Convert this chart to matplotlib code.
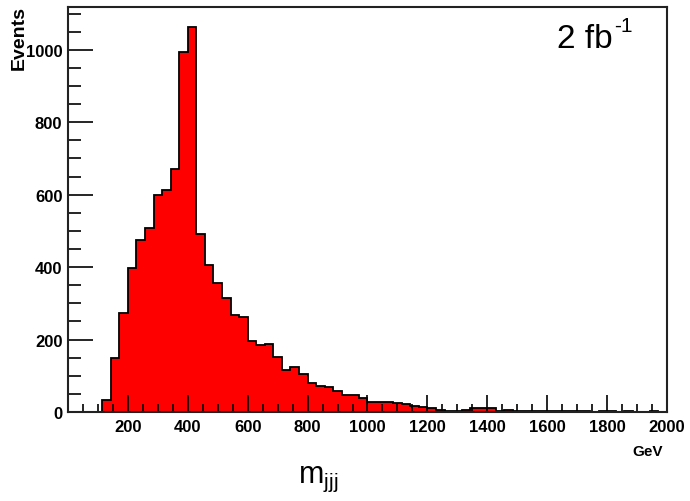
import numpy as np
import matplotlib.pyplot as plt
from matplotlib.ticker import MultipleLocator

plt.rcParams['font.family'] = ['Liberation Sans', 'DejaVu Sans']
plt.rcParams['axes.unicode_minus'] = False

# 70 bins from 0 to 2000 GeV
edges = np.linspace(0, 2000, 71)
counts = [0, 0, 0, 0, 33, 148, 273, 398, 475, 508,
          600, 614, 672, 994, 1064, 490, 405, 355, 315, 267,
          261, 197, 185, 189, 153, 116, 125, 105, 80, 71,
          68, 57, 47, 47, 38, 28, 28, 27, 25, 22,
          17, 14, 10, 6, 3, 3, 5, 11, 11, 10,
          3, 6, 4, 3, 3, 2, 3, 2, 2, 3,
          2, 1, 2, 2, 1, 2, 1, 1, 2, 1]
xticks = [200, 400, 600, 800, 1000, 1200, 1400, 1600, 1800, 2000]

fig = plt.figure(figsize=(6.9, 5.02), dpi=100)
ax = fig.add_axes([68 / 690, 1 - 413 / 502, 599 / 690, 405 / 502])

ax.stairs(counts, edges, fill=True, color='red', linewidth=0)
ax.stairs(counts, edges, color='black', linewidth=1.3)

ax.set_xlim(0, 2000)
ax.set_ylim(0, 1118)
ax.set_xticks(xticks)
ax.xaxis.set_minor_locator(MultipleLocator(50))
ax.yaxis.set_major_locator(MultipleLocator(200))
ax.yaxis.set_minor_locator(MultipleLocator(50))
ax.tick_params(which='both', direction='in', top=False, right=False, width=1.2, color='black')
ax.tick_params(axis='y', which='major', length=18, pad=4)
ax.tick_params(axis='y', which='minor', length=9)
ax.tick_params(axis='x', which='major', length=12, pad=5)
ax.tick_params(axis='x', which='minor', length=6)
for lab in ax.get_xticklabels() + ax.get_yticklabels():
    lab.set_fontweight('bold')
    lab.set_fontsize(12)
for sp in ax.spines.values():
    sp.set_linewidth(1.5)
    sp.set_color('#222222')

fig.text(648 / 690, 1 - 452 / 502, 'GeV', fontsize=11, fontweight='bold', ha='center', va='center')
fig.text(19 / 690, 1 - 38 / 502, 'Events', fontsize=14, fontweight='bold', rotation=90,
         ha='center', va='center')
t = fig.text(557 / 690, 1 - 48 / 502, '2 fb', fontsize=24, ha='left', va='baseline')
ax.annotate('-1', xy=(1.02, 0.62), xycoords=t, fontsize=15, ha='left', va='bottom')
fig.text(298 / 690, 1 - 483 / 502, 'm$_{\\mathregular{jjj}}$', fontsize=22, ha='left', va='baseline')

fig.savefig('out.png', dpi=100)
